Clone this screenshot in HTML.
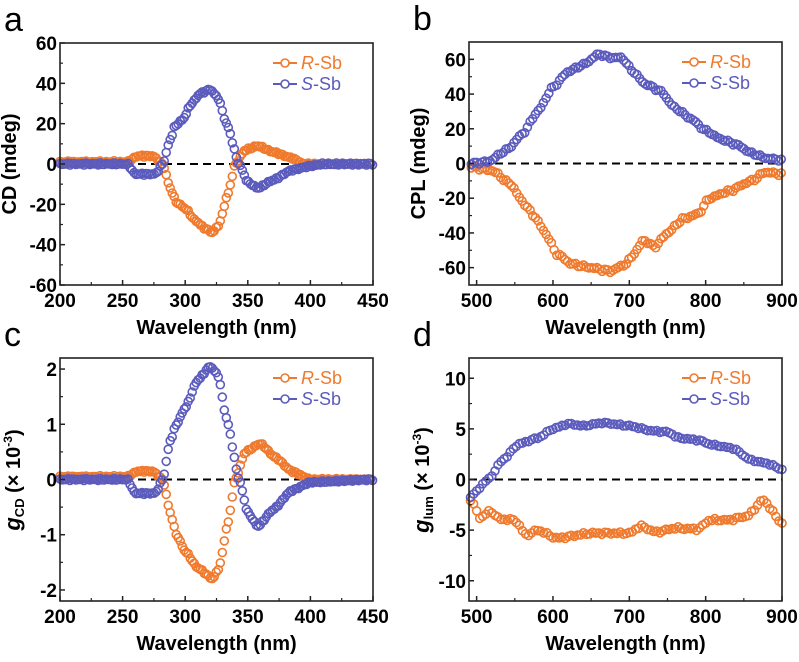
<!DOCTYPE html>
<html><head><meta charset="utf-8"><style>
html,body{margin:0;padding:0;background:#fff;}
svg text{font-family:"Liberation Sans",Arial,sans-serif;}
</style></head><body>
<svg id="s" width="799" height="657" xmlns="http://www.w3.org/2000/svg"></svg>
<script>
const O='#ef7a2e',B='#5b5bbd';
const svg=document.getElementById('s');
let h='';
function interp(pts,x){
  if(x<=pts[0][0])return pts[0][1];
  for(let i=1;i<pts.length;i++){if(x<=pts[i][0]){const a=pts[i-1],b=pts[i];const t=(x-a[0])/(b[0]-a[0]);const s=t*t*(3-2*t);return a[1]+(b[1]-a[1])*(0.5*t+0.5*s);}}
  return pts[pts.length-1][1];
}
function panel(p){
  const {x0,x1,y0,y1,xmin,xmax,ymin,ymax}=p;
  const X=v=>x0+(v-xmin)/(xmax-xmin)*(x1-x0);
  const Y=v=>y1-(v-ymin)/(ymax-ymin)*(y1-y0);
  h+=`<line x1="${x0}" x2="${x1}" y1="${Y(0)}" y2="${Y(0)}" stroke="#000" stroke-width="2" stroke-dasharray="8,5"/>`;
  for(const s of p.series){
    for(let w=p.start;w<=p.end+0.01;w+=p.step){
      let v=interp(s.pts,w)+s.noise*Math.sin(w*1.7)*Math.cos(w*0.53);
      h+=`<circle cx="${X(w).toFixed(1)}" cy="${Y(v).toFixed(1)}" r="4" fill="none" stroke="${s.c}" stroke-width="1.6"/>`;
    }
  }
  h+=`<rect x="${x0}" y="${y0}" width="${x1-x0}" height="${y1-y0}" fill="none" stroke="#222" stroke-width="1.6"/>`;
  for(const t of p.xt){const xx=X(t);h+=`<line x1="${xx}" x2="${xx}" y1="${y1}" y2="${y1-5}" stroke="#222" stroke-width="1.5"/><text x="${xx}" y="${y1+22}" font-size="19" font-weight="bold" text-anchor="middle">${t}</text>`;}
  for(const t of p.xm){const xx=X(t);h+=`<line x1="${xx}" x2="${xx}" y1="${y1}" y2="${y1-3}" stroke="#222" stroke-width="1.2"/>`;}
  for(const t of p.yt){const yy=Y(t);h+=`<line x1="${x0}" x2="${x0+5}" y1="${yy}" y2="${yy}" stroke="#222" stroke-width="1.5"/><text x="${x0-3}" y="${yy+7}" font-size="19" font-weight="bold" text-anchor="end">${t}</text>`;}
  for(const t of p.ym){const yy=Y(t);h+=`<line x1="${x0}" x2="${x0+3}" y1="${yy}" y2="${yy}" stroke="#222" stroke-width="1.2"/>`;}
  h+=`<text x="${(x0+x1)/2}" y="${y1+49}" font-size="20" font-weight="bold" text-anchor="middle">Wavelength (nm)</text>`;
  h+=`<text transform="translate(${x0-44},${(y0+y1)/2}) rotate(-90)" font-size="20" font-weight="bold" text-anchor="middle">${p.yl}</text>`;
  h+=`<text x="${x0-56}" y="${y0-12}" font-size="34">${p.L}</text>`;
  const lx=x1-100;
  [[O,'R',y0+20],[B,'S',y0+41]].forEach(([c,n,yy])=>{
    h+=`<line x1="${lx}" x2="${lx+24}" y1="${yy}" y2="${yy}" stroke="${c}" stroke-width="2"/><circle cx="${lx+12}" cy="${yy}" r="4" fill="#fff" stroke="${c}" stroke-width="1.6"/><text x="${lx+28}" y="${yy+6}" font-size="18" fill="${c}"><tspan font-style="italic">${n}</tspan>-Sb</text>`;
  });
}
const cdS=[[200,0],[254,0],[260,-5],[276,-5],[282,0],[288,12],[292,19],[298,22],[305,30],[312,35],[320,37],[326,33],[333,20],[343,0],[350,-9],[358,-12],[370,-8],[385,-3],[400,-1],[410,0],[450,0]];
const cdR=[[200,1],[254,1],[262,4],[274,4],[282,0],[288,-12],[293,-19],[300,-22],[308,-28],[316,-32],[322,-34],[327,-30],[334,-15],[340,0],[348,7],[358,9],[370,6],[385,3],[395,0],[450,0]];
panel({x0:60,x1:373,y0:43,y1:285,xmin:200,xmax:450,ymin:-60,ymax:60,start:200,end:450,step:1.6,
 xt:[200,250,300,350,400,450],xm:[225,275,325,375,425],yt:[60,40,20,0,-20,-40,-60],ym:[50,30,10,-10,-30,-50],yl:'CD (mdeg)',L:'a',
 series:[{c:O,pts:cdR,noise:0.6},{c:B,pts:cdS,noise:0.6}]});
panel({x0:60,x1:373,y0:358,y1:601,xmin:200,xmax:450,ymin:-2.2,ymax:2.2,start:200,end:450,step:1.6,
 xt:[200,250,300,350,400,450],xm:[225,275,325,375,425],yt:[2,1,0,-1,-2],ym:[1.5,0.5,-0.5,-1.5],yl:'',L:'c',
 series:[{c:O,pts:[[200,0.05],[254,0.05],[262,0.15],[274,0.15],[282,0],[288,-0.6],[293,-1.0],[300,-1.3],[310,-1.6],[322,-1.8],[327,-1.6],[334,-0.8],[340,0],[348,0.5],[360,0.65],[372,0.4],[385,0.15],[400,0],[450,0]],noise:0.02},
         {c:B,pts:[[200,0],[254,0],[260,-0.25],[276,-0.25],[282,0],[288,0.7],[293,1.0],[300,1.3],[310,1.8],[320,2.05],[326,1.9],[333,1.1],[343,0],[350,-0.6],[358,-0.85],[370,-0.55],[385,-0.2],[400,-0.05],[450,0]],noise:0.02}]});
h+=`<text transform="translate(20,480) rotate(-90)" font-size="20" font-weight="bold" text-anchor="middle"><tspan font-style="italic" font-size="22">g</tspan><tspan font-size="13" dy="4">CD</tspan><tspan dy="-4"> (× 10</tspan><tspan font-size="12" dy="-8">-3</tspan><tspan dy="8">)</tspan></text>`;
panel({x0:469,x1:782,y0:42,y1:285,xmin:490,xmax:900,ymin:-70,ymax:70,start:493,end:900,step:3.5,
 xt:[500,600,700,800,900],xm:[550,650,750,850],yt:[60,40,20,0,-20,-40,-60],ym:[50,30,10,-10,-30,-50],yl:'CPL (mdeg)',L:'b',
 series:[{c:O,pts:[[493,-2],[520,-4],[545,-12],[560,-22],[575,-30],[590,-40],[605,-52],[625,-58],[650,-60],[675,-62],[695,-58],[710,-50],[718,-44],[733,-48],[750,-40],[770,-32],[790,-29],[805,-20],[830,-16],[860,-10],[878,-5],[900,-6]],noise:1},
         {c:B,pts:[[493,0],[515,1],[540,8],[560,17],[580,30],[600,44],[620,53],[640,57],[660,63],[675,61],[690,61],[705,53],[720,46],[740,42],[760,32],[780,26],[800,19],[820,14],[840,11],[860,6],[880,3],[900,2]],noise:0.8}]});
panel({x0:469,x1:782,y0:358,y1:601,xmin:490,xmax:900,ymin:-12,ymax:12,start:492,end:900,step:4,
 xt:[500,600,700,800,900],xm:[550,650,750,850],yt:[10,5,0,-5,-10],ym:[7.5,2.5,-2.5,-7.5],yl:'',L:'d',
 series:[{c:O,pts:[[492,-2],[505,-3.8],[518,-3.1],[530,-3.9],[550,-4],[565,-5.5],[580,-5],[605,-5.8],[650,-5.3],[700,-5.3],[715,-4.6],[735,-5.2],[760,-4.8],[790,-4.9],[805,-4],[830,-4],[855,-3.6],[875,-2],[900,-4.3]],noise:0.15},
         {c:B,pts:[[492,-1.7],[515,0],[535,2],[555,3.5],[580,4.1],[600,5],[620,5.5],[640,5.3],[665,5.6],[700,5.3],[730,4.8],[750,4.7],[765,4.1],[790,3.9],[810,3.4],[835,3.1],[860,1.9],[880,1.6],[900,1]],noise:0.1}]});
h+=`<text transform="translate(429,480) rotate(-90)" font-size="20" font-weight="bold" text-anchor="middle"><tspan font-style="italic" font-size="22">g</tspan><tspan font-size="13" dy="4">lum</tspan><tspan dy="-4"> (× 10</tspan><tspan font-size="12" dy="-8">-3</tspan><tspan dy="8">)</tspan></text>`;
svg.innerHTML=h;
</script>
</body></html>
